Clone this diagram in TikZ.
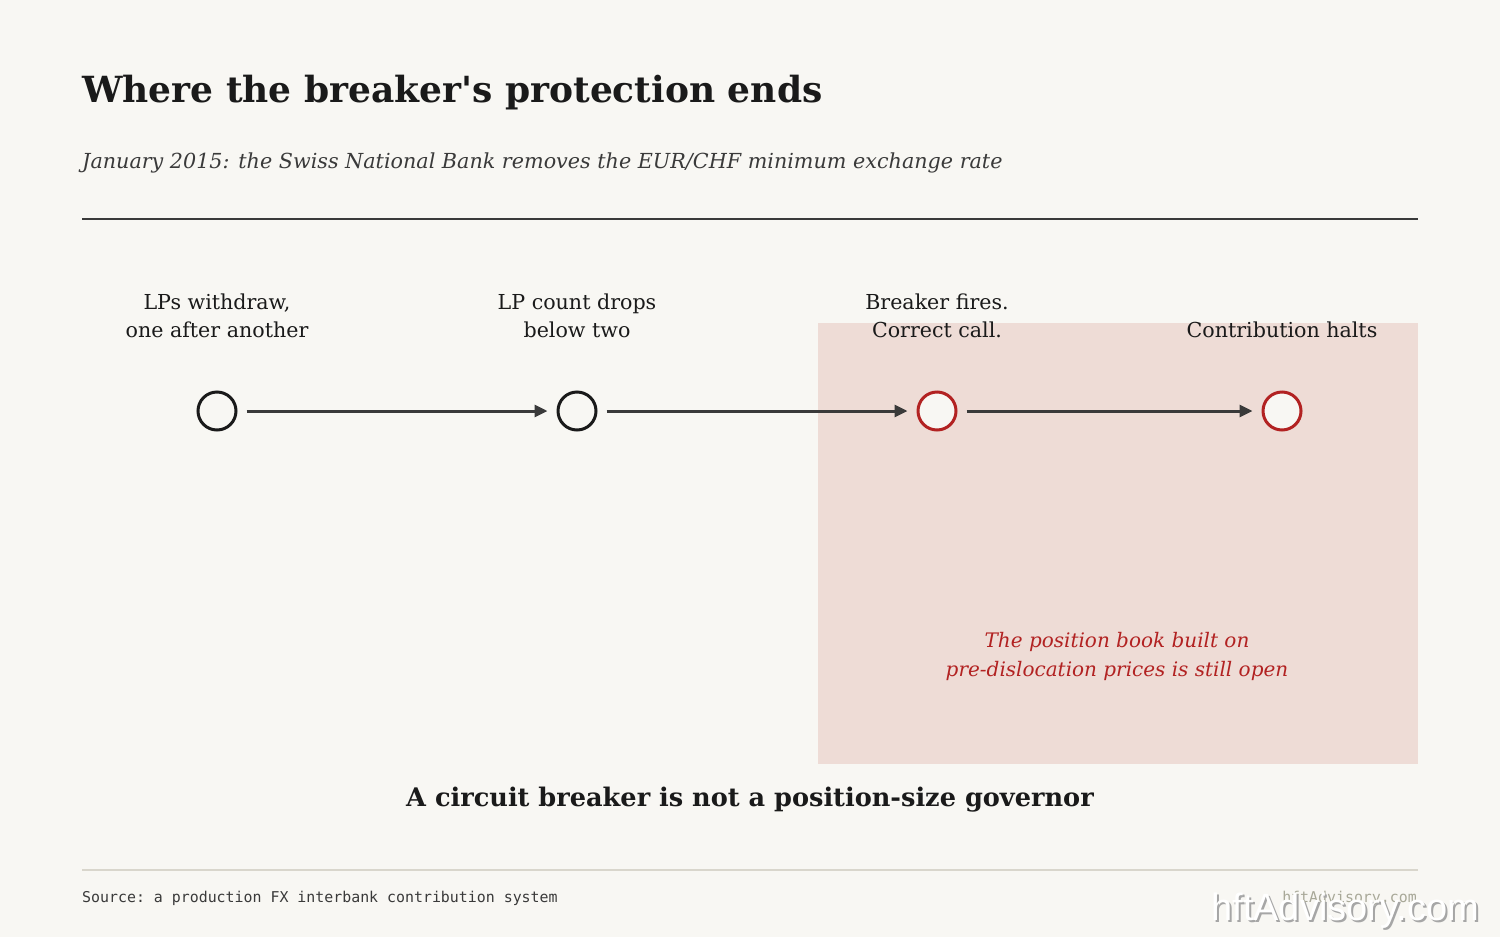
\documentclass[tikz,border=0pt]{standalone}
\usepackage{fontspec}
\setmainfont{DejaVu Serif}
\setmonofont{DejaVu Sans Mono}
\newfontfamily\wmfont{Liberation Sans}
\usetikzlibrary{arrows.meta}
\definecolor{bg}{HTML}{F8F7F3}
\definecolor{ink}{HTML}{1A1A1A}
\definecolor{arrowc}{HTML}{3A3A3A}
\definecolor{redc}{HTML}{B22222}
\definecolor{zone}{HTML}{EEDCD6}
\definecolor{rulelight}{HTML}{D9D6CC}
\definecolor{graytxt}{HTML}{A8A898}
\definecolor{subc}{HTML}{3A3A3A}
\tikzset{
  event/.style={circle, draw=ink, line width=3bp, minimum size=38bp, inner sep=0pt, fill=bg},
  redevent/.style={event, draw=redc},
  flow/.style={draw=arrowc, line width=3bp, -{Triangle[length=13bp,width=12bp]}, shorten <=9bp, shorten >=9bp},
  lbl/.style={align=center, text=ink, font=\fontsize{20.6bp}{28bp}\selectfont, inner sep=0pt, anchor=base},
}
\begin{document}
\begin{tikzpicture}[x=1bp,y=-1bp]
\fill[bg] (0,0) rectangle (1500,937);
\useasboundingbox (0,0) rectangle (1500,937);
% zone
\fill[zone] (818,323) rectangle (1418,764);
% title
\node[anchor=base west, inner sep=0pt, text=ink, font=\fontsize{36bp}{44bp}\selectfont\bfseries] (title) at (82,102) {Where the breaker\textquotesingle s protection ends};
\node[anchor=base west, inner sep=0pt, text=subc, font=\fontsize{20.7bp}{24bp}\selectfont\itshape] (sub) at (82,168) {January 2015: the Swiss National Bank removes the EUR/CHF minimum exchange rate};
\draw[arrowc, line width=2bp] (82,219) -- (1418,219);
% events
\node[event] (e1) at (217,411) {};
\node[event] (e2) at (577,411) {};
\node[redevent] (e3) at (937,411) {};
\node[redevent] (e4) at (1282,411) {};
\draw[flow] (e1) -- (e2);
\draw[flow] (e2) -- (e3);
\draw[flow] (e3) -- (e4);
% labels
\node[lbl] (l1) at (217,337) {LPs withdraw,\\one after another};
\node[lbl] (l2) at (577,337) {LP count drops\\below two};
\node[lbl] (l3) at (937,337) {Breaker fires.\\Correct call.};
\node[lbl] (l4) at (1282,337) {Contribution halts};
% zone note
\node[align=center, text=redc, inner sep=0pt, anchor=base, font=\fontsize{20bp}{29bp}\selectfont\itshape] (note) at (1117,676) {The position book built on\\pre-dislocation prices is still open};
% takeaway
\node[anchor=base, inner sep=0pt, text=ink, font=\fontsize{25.6bp}{30bp}\selectfont\bfseries] (take) at (750,806) {A circuit breaker is not a position-size governor};
% footer
\draw[rulelight, line width=1.5bp] (82,870) -- (1418,870);
\node[anchor=base west, inner sep=0pt, text=subc, font=\fontsize{14.9bp}{17bp}\selectfont\ttfamily] (src) at (82,902) {Source: a production FX interbank contribution system};
\node[anchor=base east, inner sep=0pt, text=graytxt, font=\fontsize{14.9bp}{17bp}\selectfont\ttfamily] (brand) at (1417,902) {hftAdvisory.com};
% watermark
\node[anchor=base east, inner sep=0pt, text=black!35, font=\fontsize{38bp}{40bp}\selectfont\wmfont] (wm2) at (1481,922) {hftAdvisory.com};
\node[anchor=base east, inner sep=0pt, text=white, font=\fontsize{38bp}{40bp}\selectfont\wmfont] (wm) at (1479,920) {hftAdvisory.com};
\end{tikzpicture}
\end{document}
